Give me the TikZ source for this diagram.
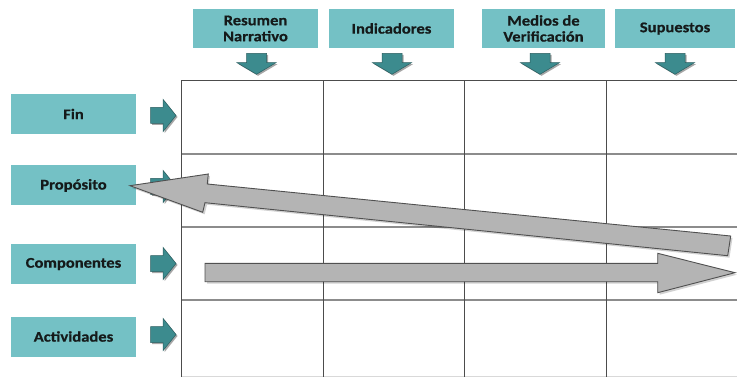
\documentclass[tikz,border=0pt]{standalone}
\usepackage{fontspec}
\newfontfamily\boxfont{Carlito}[FakeStretch=1.12,FakeBold=0.6]
\definecolor{boxteal}{HTML}{74C1C5}
\definecolor{arrteal}{HTML}{3C8B8E}
\definecolor{arrline}{HTML}{2A5E60}
\definecolor{txt}{HTML}{151A1A}
\definecolor{grayfill}{HTML}{B4B4B4}
\definecolor{grayline}{HTML}{505050}
\tikzset{
  hdrbox/.style={fill=boxteal, minimum height=39pt, inner sep=0pt, align=center,
    font=\boxfont\bfseries\fontsize{14.8}{16}\selectfont, text=txt},
  rowbox/.style={hdrbox, minimum width=125pt, minimum height=40pt},
  tealarr/.style={fill=arrteal, draw=arrline, line width=0.5pt, line join=miter},
  tealshadow/.style={fill=black, opacity=0.35},
  bigarr/.style={fill=grayfill, draw=grayline, line width=0.9pt, line join=miter},
  bigshadow/.style={fill=black, opacity=0.18},
  vline/.style={draw=black!70, line width=0.9pt},
  hline/.style={draw=black!45, line width=1.4pt},
  pics/darr/.style={code={
    \fill[tealshadow] (-10+1.5,-9.4+1.5) -- (10+1.5,-9.4+1.5) -- (10+1.5,0+1.5) -- (19.5+1.5,0+1.5) -- (0+1.5,11.6+1.5) -- (-19.5+1.5,0+1.5) -- (-10+1.5,0+1.5) -- cycle;
    \draw[tealarr] (-10,-9.4) -- (10,-9.4) -- (10,0) -- (19.5,0) -- (0,11.6) -- (-19.5,0) -- (-10,0) -- cycle;
  }},
  pics/rarr/.style={code={
    \fill[tealshadow] (0+1.5,-8+1.5) -- (12.3+1.5,-8+1.5) -- (12.3+1.5,-16.2+1.5) -- (25.3+1.5,0+1.5) -- (12.3+1.5,16.2+1.5) -- (12.3+1.5,8+1.5) -- (0+1.5,8+1.5) -- cycle;
    \draw[tealarr] (0,-8) -- (12.3,-8) -- (12.3,-16.2) -- (25.3,0) -- (12.3,16.2) -- (12.3,8) -- (0,8) -- cycle;
  }}
}
\begin{document}
\begin{tikzpicture}[x=1pt,y=-1pt]
\useasboundingbox (0,0) rectangle (737,377);
\fill[white] (0,0) rectangle (737,377);
% grid
\draw[hline] (181.5,154) -- (737,154);
\draw[hline] (181.5,227) -- (737,227);
\draw[hline] (181.5,300) -- (737,300);
\draw[draw=black!15, line width=0.8pt] (181.5,376) -- (737,376);
\draw[draw=black!70, line width=0.9pt] (181.5,80.5) -- (737,80.5);
\foreach \x in {181.5,323,464.6,606.7} \draw[vline] (\x,80.5) -- (\x,377);
% header boxes
\node[hdrbox, minimum width=125pt] (resumen) at (255.5,28.5) {Resumen\\Narrativo};
\node[hdrbox, minimum width=125pt] (indicadores) at (391.5,28.5) {Indicadores};
\node[hdrbox, minimum width=123pt] (medios) at (543.5,28.5) {Medios de\\Verificación};
\node[hdrbox, minimum width=120pt] (supuestos) at (675,28.5) {Supuestos};
% row boxes
\node[rowbox] (fin) at (73.5,114) {Fin};
\node[rowbox] (proposito) at (73.5,185.5) {Propósito};
\node[rowbox] (componentes) at (73.5,264) {Componentes};
\node[rowbox] (actividades) at (73.5,336.5) {Actividades};
% teal arrows
\pic at (256.5,62.7) {darr};
\pic at (392,62.7) {darr};
\pic at (540,62.7) {darr};
\pic at (675,62.7) {darr};
\pic at (150.7,115.5) {rarr};
\pic at (150.7,186.5) {rarr};
\pic at (150.7,263.5) {rarr};
\pic at (150.7,334.5) {rarr};
% big gray arrows
\fill[bigshadow] (132,188) -- (210,176) -- (209,186) -- (732.5,238) -- (729.5,257.7) -- (207,204.7) -- (204.7,214.3) -- cycle;
\draw[bigarr] (130,185.7) -- (208.3,174) -- (207.3,184) -- (730.7,236) -- (727.7,255.7) -- (205,202.7) -- (202.7,212.3) -- cycle;
\fill[bigshadow] (207,265.3) -- (659.7,265.3) -- (659.7,255.3) -- (737,274.7) -- (659.7,294.7) -- (659.7,283.7) -- (207,283.7) -- cycle;
\draw[bigarr] (205,263.3) -- (657.7,263.3) -- (657.7,253.3) -- (735,272.7) -- (657.7,292.7) -- (657.7,281.7) -- (205,281.7) -- cycle;
\end{tikzpicture}
\end{document}
